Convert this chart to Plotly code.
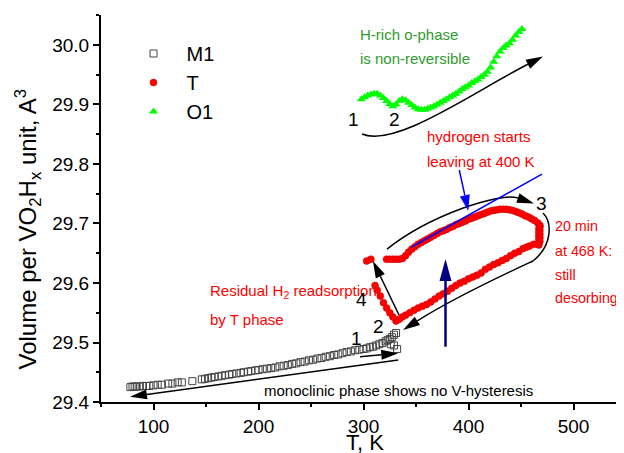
import math
import plotly.graph_objects as go

# ---------------- data ----------------
m1_T = [78, 80, 82, 84, 87, 90, 93, 96, 100, 104, 108, 114, 118, 123, 127, 137, 146, 149, 152, 155,
        158, 162, 165, 168, 172, 175, 179, 183, 186, 190, 193, 197, 200, 204, 208, 212, 216, 220, 224, 228,
        232, 236, 240, 244, 248, 252, 256, 260, 264, 268, 272, 276, 280, 284, 288, 292, 296, 300, 303, 306,
        309, 312, 315, 318, 321, 323, 325, 327, 329, 331, 326, 329, 332]
m1_V = [29.425, 29.426, 29.426, 29.426, 29.426, 29.427, 29.427, 29.427, 29.428, 29.429, 29.429, 29.431,
        29.431, 29.433, 29.433, 29.435, 29.438, 29.439, 29.440, 29.441, 29.442, 29.443, 29.444, 29.445,
        29.446, 29.447, 29.448, 29.449, 29.450, 29.451, 29.452, 29.453, 29.454, 29.455, 29.456, 29.457,
        29.458, 29.460, 29.461, 29.462, 29.464, 29.465, 29.467, 29.468, 29.470, 29.471, 29.473, 29.474,
        29.476, 29.477, 29.479, 29.480, 29.482, 29.484, 29.485, 29.487, 29.488, 29.489, 29.490, 29.492,
        29.493, 29.495, 29.497, 29.499, 29.502, 29.504, 29.506, 29.509, 29.513, 29.516, 29.497, 29.495,
        29.489]

t_T = [322, 325, 328, 331, 334, 337, 340, 343, 346, 349, 352, 355, 358, 361, 364, 367, 370, 373, 376, 379,
       382, 385, 388, 391, 394, 397, 400, 403, 406, 409, 412, 415, 418, 421, 424, 427, 430, 433, 436, 439,
       442, 445, 448, 451, 454, 457, 460, 463, 466, 468,
       468, 467, 468, 467, 468, 467, 468, 467, 468, 467, 467,
       466, 462, 458, 455, 452, 448, 444, 440, 436, 432, 428, 424, 420, 416, 412, 408, 404, 400, 396, 392,
       388, 384, 380, 376, 372, 368, 364, 360, 356, 352, 348, 344, 340, 337, 334, 331,
       328, 325, 322, 319, 316, 313, 311, 307, 303]
t_V = [29.640, 29.640, 29.640, 29.640, 29.640, 29.641, 29.646, 29.652, 29.657, 29.661, 29.665, 29.668,
       29.671, 29.674, 29.677, 29.680, 29.683, 29.686, 29.688, 29.690, 29.693, 29.695, 29.698, 29.700,
       29.702, 29.704, 29.707, 29.709, 29.711, 29.713, 29.715, 29.717, 29.719, 29.721, 29.722, 29.723,
       29.724, 29.724, 29.724, 29.723, 29.722, 29.720, 29.718, 29.716, 29.713, 29.711, 29.708, 29.705,
       29.701, 29.697,
       29.694, 29.691, 29.688, 29.685, 29.682, 29.679, 29.676, 29.673, 29.670, 29.667, 29.664,
       29.665, 29.665, 29.662, 29.660, 29.658, 29.653, 29.650, 29.646, 29.641, 29.638, 29.634, 29.631,
       29.627, 29.623, 29.617, 29.613, 29.610, 29.607, 29.603, 29.600, 29.596, 29.591, 29.586, 29.582,
       29.578, 29.573, 29.568, 29.564, 29.561, 29.558, 29.554, 29.550, 29.546, 29.543, 29.539, 29.536,
       29.543, 29.550, 29.558, 29.567, 29.578, 29.588, 29.596, 29.640, 29.637]

o1_T = [298, 301, 304, 307, 310, 313, 316, 319, 322, 325, 328, 331, 334, 337, 340, 343, 346, 349, 352, 355,
        358, 361, 364, 367, 370, 373, 376, 379, 382, 385, 388, 391, 394, 397, 400, 403, 406, 409, 412, 415,
        418, 421, 424, 427, 430, 433, 436, 439, 442, 445, 448, 451]
o1_V = [29.909, 29.912, 29.915, 29.917, 29.918, 29.918, 29.915, 29.911, 29.906, 29.901, 29.897, 29.900,
        29.906, 29.909, 29.907, 29.903, 29.899, 29.895, 29.892, 29.891, 29.891, 29.893, 29.895, 29.897,
        29.900, 29.903, 29.906, 29.909, 29.912, 29.915, 29.918, 29.922, 29.926, 29.929, 29.932, 29.936,
        29.939, 29.942, 29.946, 29.950, 29.955, 29.962, 29.972, 29.981, 29.989, 29.995, 29.999, 30.003,
        30.009, 30.016, 30.022, 30.027]

x_ticks = [100, 200, 300, 400, 500]
y_ticks = [29.4, 29.5, 29.6, 29.7, 29.8, 29.9, 30.0]

# ---------------- layout constants ----------------
OFF = 8                      # page body margin of the html page
W, H = 624 - OFF, 453 - OFF
ML, MR, MT, MB = 101 - OFF, 0, 15 - OFF, 51
X_RANGE = [50, 548.1]
Y_RANGE = [29.4, 30.0504]
PW, PH = W - ML - MR, H - MT - MB
SX = PW / (X_RANGE[1] - X_RANGE[0])
SY = PH / (Y_RANGE[1] - Y_RANGE[0])
FONT = "Arial, Liberation Sans, sans-serif"
PLOT_LEFT_PAGE = ML + OFF
PLOT_BOTTOM_PAGE = MT + PH + OFF


def to_px(x, y):
    return ML + (x - X_RANGE[0]) * SX, MT + (Y_RANGE[1] - y) * SY


def to_data(u, v):
    return X_RANGE[0] + (u - ML) / SX, Y_RANGE[1] - (v - MT) / SY


def paper_x(page_px):
    return (page_px - PLOT_LEFT_PAGE) / PW


def paper_y(page_py):
    return (PLOT_BOTTOM_PAGE - page_py) / PH


shapes = []
annotations = []


def head(tip, frm, color="black", length=17, half=5):
    """filled arrow head at tip (data), pointing from frm (data); returns base point (data)."""
    tx, ty = to_px(*tip)
    fx, fy = to_px(*frm)
    dx, dy = tx - fx, ty - fy
    n = math.hypot(dx, dy)
    ux, uy = dx / n, dy / n
    bx, by = tx - ux * length, ty - uy * length
    p1 = to_data(bx - uy * half, by + ux * half)
    p2 = to_data(bx + uy * half, by - ux * half)
    shapes.append(dict(type="path", xref="x", yref="y",
                       path=f"M{tip[0]},{tip[1]} L{p1[0]},{p1[1]} L{p2[0]},{p2[1]} Z",
                       fillcolor=color, line=dict(width=0), layer="above"))
    return to_data(bx, by)


def arrow(tail, tip, color="black", width=1.5, length=17, half=5):
    base = head(tip, tail, color, length, half)
    shapes.append(dict(type="line", xref="x", yref="y", x0=tail[0], y0=tail[1],
                       x1=base[0], y1=base[1], line=dict(color=color, width=width), layer="above"))


def curve(p0, c1, c2, tip, color="black", width=1.5):
    base = head(tip, c2, color)
    shapes.append(dict(type="path", xref="x", yref="y",
                       path=f"M{p0[0]},{p0[1]} C{c1[0]},{c1[1]} {c2[0]},{c2[1]} {base[0]},{base[1]}",
                       line=dict(color=color, width=width), layer="above"))


def text(x, y, s, color="black", size=15, anchor="left"):
    annotations.append(dict(x=x, y=y, xref="x", yref="y", text=s, showarrow=False,
                            xanchor=anchor, yanchor="middle", borderpad=0,
                            font=dict(family=FONT, size=size, color=color)))


# O1 curved arrow
curve((298.6, 29.8504), (330.0, 29.8269), (403.3, 29.9193), (470.9, 29.9807))
# loop around T phase: upper part
curve((322.4, 29.657), (363.3, 29.7143), (430.0, 29.7529), (462.4, 29.7336))
# loop: right bend + lower part
shapes.append(dict(type="path", xref="x", yref="y",
                   path="M470.95,29.7176 C479.5,29.7025 480.5,29.6639 461.4,29.6370",
                   line=dict(color="black", width=1.5), layer="above"))
curve((461.4, 29.6370), (434.8, 29.6151), (387.1, 29.5765), (337.6, 29.5210))
# arrow 4
arrow((333.8, 29.5462), (309.0, 29.6370))
# M1 arrows
arrow((296.7, 29.4762), (333.1, 29.4819))
arrow((333.1, 29.4706), (77.6, 29.4089))
# blue tangent line
shapes.append(dict(type="line", xref="x", yref="y", x0=345.9, y0=29.6605, x1=470.0, y1=29.7831,
                   line=dict(color="#0000ff", width=1.5), layer="above"))
# blue pointer arrow
arrow((391.2, 29.7899), (399.8, 29.7210), color="#0000ff", width=1.5, length=16, half=5)
# navy vertical arrow
arrow((378.1, 29.4929), (378.1, 29.6403), color="#000080", width=2.5, length=22, half=6)

GREEN = "#2e9b2e"
RED = "#ff0000"
text(296.0, 30.017, "H-rich o-phase", GREEN)
text(296.0, 29.978, "is non-reversible", GREEN)
text(290.3, 29.875, "1", size=19, anchor="center")
text(329.3, 29.875, "2", size=19, anchor="center")
text(359.5, 29.846, "hydrogen starts", RED)
text(359.5, 29.804, "leaving at 400 K", RED)
text(469.7, 29.734, "3", size=19, anchor="center")
text(481.8, 29.695, "20 min", RED, size=14.3)
text(481.8, 29.654, "at 468 K:", RED, size=14.3)
text(481.8, 29.613, "still", RED, size=14.3)
text(481.8, 29.574, "desorbing", RED, size=14.3)
text(152.4, 29.585, "Residual H<sub>2</sub> readsorption", RED)
text(152.4, 29.538, "by T phase", RED)
text(298.3, 29.573, "4", size=19, anchor="center")
text(314.1, 29.527, "2", size=19, anchor="center")
text(293.5, 29.507, "1", size=19, anchor="center")
text(204.0, 29.419, "monoclinic phase shows no V-hysteresis")

# axis titles as annotations
annotations.append(dict(x=paper_x(27), y=paper_y(229.5), xref="paper", yref="paper",
                        text="Volume per VO<sub>2</sub>H<sub>x</sub> unit, A<sup>3</sup>",
                        textangle=-90, showarrow=False, xanchor="center", yanchor="middle",
                        font=dict(family=FONT, size=24, color="black")))
annotations.append(dict(x=paper_x(365), y=paper_y(442), xref="paper", yref="paper",
                        text="T, K", showarrow=False, xanchor="center", yanchor="middle", borderpad=0,
                        font=dict(family=FONT, size=22, color="black")))

fig = go.Figure()
fig.add_trace(go.Scatter(x=m1_T, y=m1_V, mode="markers", name="M1",
                         marker=dict(symbol="square-open", size=7, color="#444444", line=dict(width=1))))
fig.add_trace(go.Scatter(x=t_T, y=t_V, mode="markers", name="T",
                         marker=dict(symbol="circle", size=7, color=RED,
                                     line=dict(width=0.5, color="#d00000"))))
fig.add_trace(go.Scatter(x=o1_T, y=o1_V, mode="markers", name="O1",
                         marker=dict(symbol="triangle-up", size=8, color="#00ff00")))

axis_common = dict(showline=True, linecolor="black", linewidth=2, ticks="outside", ticklen=6,
                   tickwidth=1.5, tickcolor="black", showgrid=False, zeroline=False, mirror=False,
                   tickfont=dict(family=FONT, size=19, color="black"))
fig.update_xaxes(range=X_RANGE, tickvals=x_ticks, **axis_common,
                 minor=dict(dtick=50, tick0=0, ticks="outside", ticklen=3, tickwidth=1.5, tickcolor="black"))
fig.update_yaxes(range=Y_RANGE, tickvals=y_ticks, tickformat=".1f", **axis_common,
                 minor=dict(dtick=0.05, tick0=29.4, ticks="outside", ticklen=3, tickwidth=1.5,
                            tickcolor="black"))
fig.update_layout(width=W, height=H, margin=dict(l=ML, r=MR, t=MT, b=MB),
                  plot_bgcolor="white", paper_bgcolor="white",
                  shapes=shapes, annotations=annotations,
                  legend=dict(x=paper_x(120.5), y=paper_y(34), xanchor="left", yanchor="top",
                              itemwidth=56,
                              font=dict(family=FONT, size=20, color="black"),
                              bgcolor="rgba(0,0,0,0)"),
                  font=dict(family=FONT))
fig.write_html("out.html")
